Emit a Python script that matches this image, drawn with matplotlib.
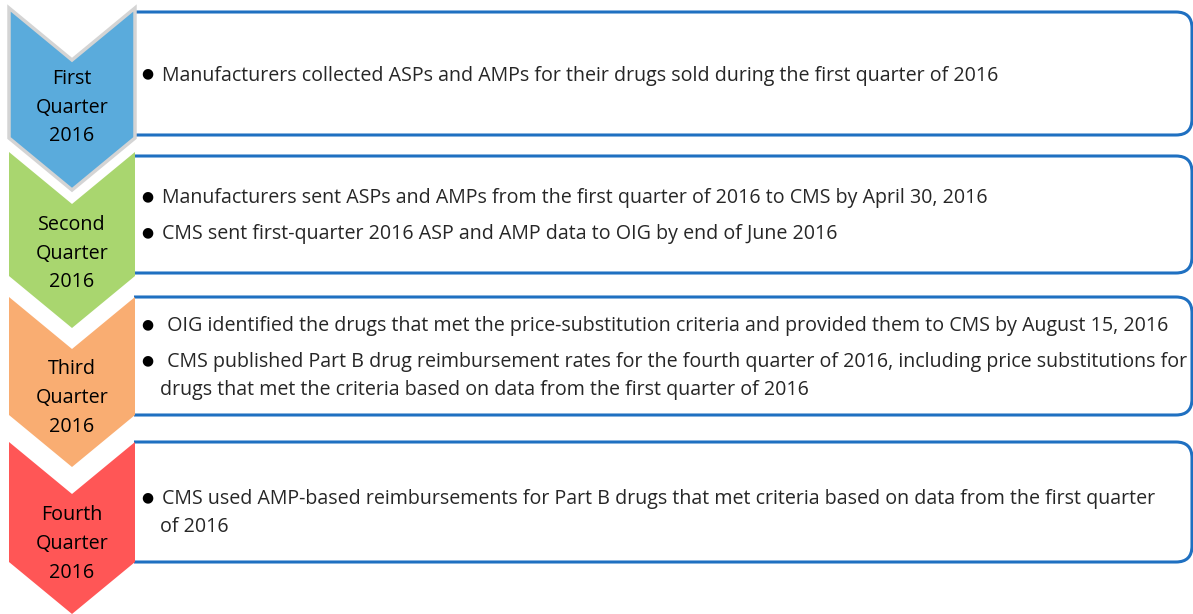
import matplotlib.pyplot as plt
from matplotlib.patches import Polygon, PathPatch
from matplotlib.path import Path

# quarters on the left, bullet points in the boxes on the right
quarters = ["First\nQuarter\n2016", "Second\nQuarter\n2016",
            "Third\nQuarter\n2016", "Fourth\nQuarter\n2016"]
colors = ["#5aabdc", "#a9d66f", "#f9ad72", "#ff5656"]
bullets = [
    [["Manufacturers collected ASPs and AMPs for their drugs sold during the first quarter of 2016"]],
    [["Manufacturers sent ASPs and AMPs from the first quarter of 2016 to CMS by April 30, 2016"],
     ["CMS sent first-quarter 2016 ASP and AMP data to OIG by end of June 2016"]],
    [[" OIG identified the drugs that met the price-substitution criteria and provided them to CMS by August 15, 2016"],
     [" CMS published Part B drug reimbursement rates for the fourth quarter of 2016, including price substitutions for",
      "drugs that met the criteria based on data from the first quarter of 2016"]],
    [["CMS used AMP-based reimbursements for Part B drugs that met criteria based on data from the first quarter",
      "of 2016"]],
]

# layout (pixels)
W, H = 1193, 614
rows = [(12, 135), (156, 273), (297, 415), (442, 562)]
cx0, cx1, depth = 9, 135, 52
bx0, bx1, rad = 134, 1192, 16
line_gap, para_gap = 28, 36

fig = plt.figure(figsize=(W / 100, H / 100), dpi=100)
ax = fig.add_axes([0, 0, 1, 1])
ax.set_xlim(0, W)
ax.set_ylim(H, 0)
ax.axis("off")

body_font = "Open Sans"

for i, (top, bot) in enumerate(rows):
    # rounded box, open on the left
    verts = [(bx0, top), (bx1 - rad, top), (bx1, top), (bx1, top + rad),
             (bx1, bot - rad), (bx1, bot), (bx1 - rad, bot), (bx0, bot)]
    codes = [Path.MOVETO, Path.LINETO, Path.CURVE3, Path.CURVE3,
             Path.LINETO, Path.CURVE3, Path.CURVE3, Path.LINETO]
    ax.add_patch(PathPatch(Path(verts, codes), facecolor="white",
                           edgecolor="#1f70c1", lw=2.2, zorder=1))

    # chevron
    ctop = top - 4 if i < 2 else top
    cbot = bot + 3 if i < 2 else bot
    xc = (cx0 + cx1) / 2
    pts = [(cx0, ctop), (xc, ctop + depth), (cx1, ctop), (cx1, cbot),
           (xc, cbot + depth), (cx0, cbot)]
    edge = "#d4d4d4" if i == 0 else "none"
    ax.add_patch(Polygon(pts, closed=True, facecolor=colors[i],
                         edgecolor=edge, lw=2.5, zorder=2))
    ymid = (top + bot) / 2 + (34 if i == 0 else 39 if i == 1 else 42)
    for k, ln in enumerate(quarters[i].split("\n")):
        ax.text(xc, ymid + (k - 1) * 28.5, ln, ha="center", va="center",
                fontsize=14.2, family=body_font, color="black", zorder=3)

    # bullet text, centered vertically in the box
    ys = []
    y = 0
    for p, para in enumerate(bullets[i]):
        if p > 0:
            y += para_gap
        for j in range(len(para)):
            if j > 0:
                y += line_gap
            ys.append(y)
    off = (top + bot) / 2 - (ys[0] + ys[-1]) / 2 + 2
    if i == 3:
        off += 9
    n = 0
    for para in bullets[i]:
        ax.text(147, ys[n] + off - 2, "\u25cf", ha="center", va="center",
                fontsize=10, color="black", zorder=3)
        for j, ln in enumerate(para):
            ax.text(162 if j == 0 else 160, ys[n] + off, ln, ha="left",
                    va="center", fontsize=14.1, family=body_font,
                    color="#262626", zorder=3)
            n += 1

fig.savefig("out.png", dpi=100)
